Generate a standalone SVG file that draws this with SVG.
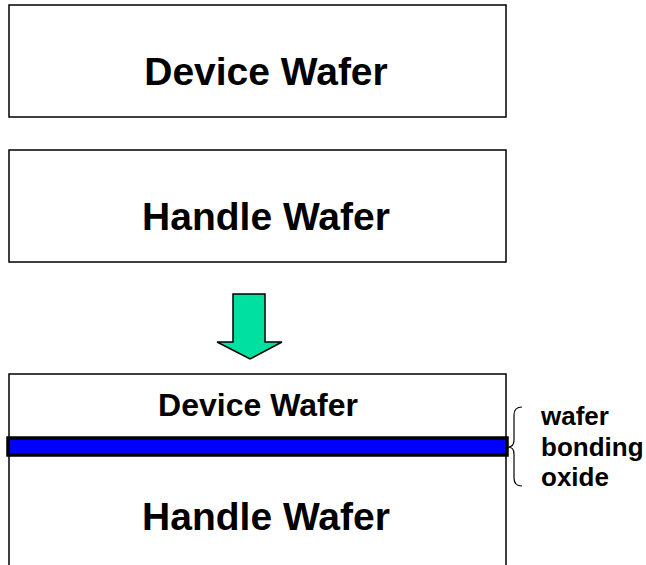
<svg xmlns="http://www.w3.org/2000/svg" width="646" height="565" viewBox="0 0 646 565">
<style>
.box{fill:#fff;stroke:#000;stroke-width:1.5}
.t{font-family:"Liberation Sans",Arial,sans-serif;font-weight:bold;fill:#000;text-anchor:middle}
.lbl{font-family:"Liberation Sans",Arial,sans-serif;font-weight:bold;fill:#000;font-size:26px}
</style>
<rect width="646" height="565" fill="#fff"/>
<g id="device-wafer">
<rect class="box" x="9" y="5" width="497" height="112"/>
<text class="t" x="266" y="85" font-size="39">Device Wafer</text>
</g>
<g id="handle-wafer">
<rect class="box" x="9" y="150" width="497" height="112"/>
<text class="t" x="266" y="230" font-size="39">Handle Wafer</text>
</g>
<g id="connectors">
<polygon points="233,294 265,294 265,342 282,342 250,359 217,342 233,342" fill="#00E0A0" stroke="#000" stroke-width="1.5"/>
</g>
<g id="bonded-stack">
<rect class="box" x="9" y="374" width="497" height="200"/>
<text class="t" x="258" y="416" font-size="32">Device Wafer</text>
<rect x="8" y="438" width="499" height="17" fill="#0000FF" stroke="#000" stroke-width="3.5"/>
<text class="t" x="266" y="530" font-size="39">Handle Wafer</text>
</g>
<g id="oxide-label">
<path d="M522,407 Q514,407 514,415 L514,440 Q514,447 508,447 Q514,447 514,454 L514,478 Q514,486 522,486" fill="none" stroke="#000" stroke-width="1.2"/>
<text class="lbl" x="541" y="425">wafer</text>
<text class="lbl" x="541" y="456">bonding</text>
<text class="lbl" x="541" y="486">oxide</text>
</g>
</svg>
